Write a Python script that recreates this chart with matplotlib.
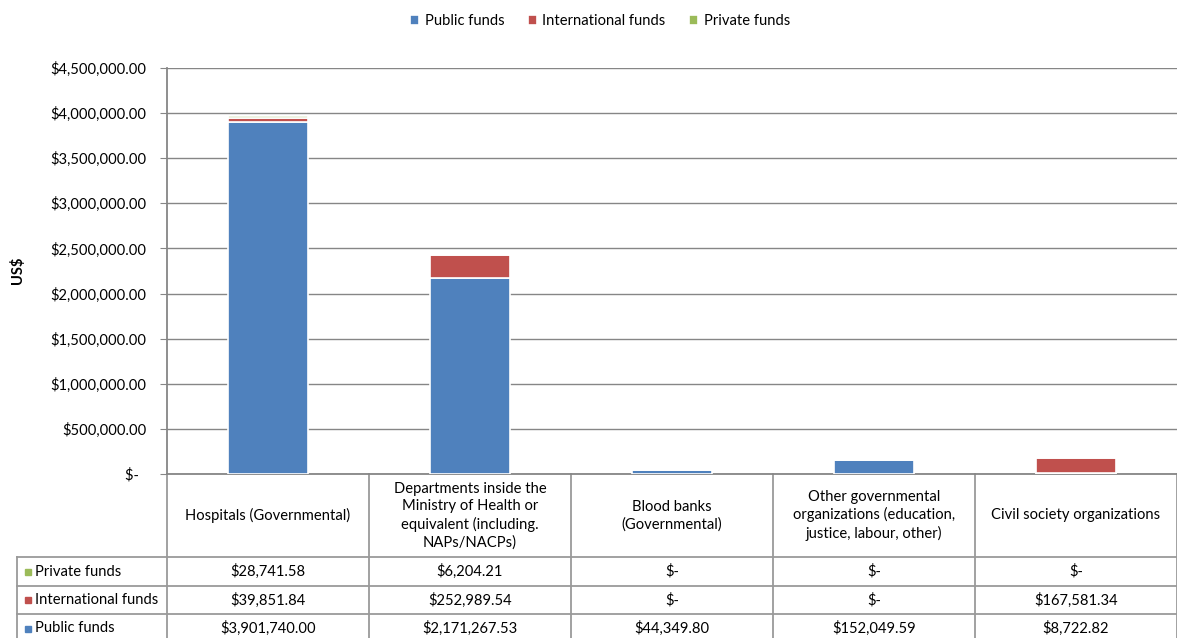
import matplotlib
matplotlib.use("Agg")
import matplotlib.pyplot as plt
import numpy as np
from matplotlib.ticker import FuncFormatter

plt.rcParams['font.family'] = ['Lato', 'DejaVu Sans']

categories = [
    "Hospitals (Governmental)",
    "Departments inside the\nMinistry of Health or\nequivalent (including.\nNAPs/NACPs)",
    "Blood banks\n(Governmental)",
    "Other governmental\norganizations (education,\njustice, labour, other)",
    "Civil society organizations",
]
public_funds = [3901740.00, 2171267.53, 44349.80, 152049.59, 8722.82]
international_funds = [39851.84, 252989.54, 0.0, 0.0, 167581.34]
private_funds = [28741.58, 6204.21, 0.0, 0.0, 0.0]
series_names = ["Public funds", "International funds", "Private funds"]
colors = ["#4F81BD", "#C0504D", "#9BBB59"]
yticks = np.arange(0, 4500001, 500000)

FS = 10.6

def money(v):
    return "$-" if v == 0 else "${:,.2f}".format(v)

fig = plt.figure(figsize=(11.77, 6.38), dpi=100)
ax = fig.add_axes([167/1177, 1-474/638, 1-167/1177, (474-68)/638])

x = np.arange(len(categories))
series = [public_funds, international_funds, private_funds]
bottom = np.zeros(len(categories))
handles = []
for name, vals, c in zip(series_names, series, colors):
    b = ax.bar(x, vals, 0.4, bottom=bottom, color=c, edgecolor="white", linewidth=1.2, label=name, zorder=3)
    handles.append(b)
    bottom += np.array(vals)

ax.set_xlim(-0.5, len(categories)-0.5)
ax.set_ylim(0, 4500000)
ax.set_yticks(yticks)
ax.yaxis.set_major_formatter(FuncFormatter(lambda v, p: "$-  " if v == 0 else money(v)))
ax.tick_params(axis='y', length=5, color="#868686", labelsize=FS, pad=10, labelcolor="#000000")
ax.tick_params(axis='x', length=0, labelbottom=False)
ax.grid(axis='y', color="#868686", linewidth=1.0, zorder=0)
for s in ["top", "right"]:
    ax.spines[s].set_visible(False)
ax.spines["left"].set_color("#868686")
ax.spines["bottom"].set_color("#868686")
ax.spines["left"].set_linewidth(1.3)
ax.spines["bottom"].set_linewidth(1.3)
ax.set_ylabel("US$", fontsize=FS, fontweight="bold")
ax.yaxis.set_label_coords((25-167)/1010, (474-270)/406)

# Legend
ax.legend(handles=handles, labels=series_names, loc="upper center",
          bbox_to_anchor=((600-167)/1010, 1+(68-13)/406+0.03),
          ncol=3, frameon=False, fontsize=FS, handlelength=0.6, handleheight=0.6,
          columnspacing=1.6, handletextpad=0.4, bbox_transform=ax.transAxes)

# Data table
tr = ax.get_xaxis_transform()
lc = "#9a9a9a"
lw = 1.3
h_hdr = -(557-474)/406
row_b = [-(586-474)/406, -(614-474)/406, -(643-474)/406]
left_lab = -0.5 - (167-17)/202.0
right = len(categories) - 0.5
for xv in np.arange(-0.5, len(categories), 1.0):
    ax.plot([xv, xv], [0, row_b[-1]], color=lc, lw=lw, transform=tr, clip_on=False)
ax.plot([left_lab, left_lab], [h_hdr, row_b[-1]], color=lc, lw=lw, transform=tr, clip_on=False)
ax.plot([left_lab, right], [h_hdr, h_hdr], color=lc, lw=lw, transform=tr, clip_on=False)
for yb in row_b:
    ax.plot([left_lab, right], [yb, yb], color=lc, lw=lw, transform=tr, clip_on=False)

for i, cat in enumerate(categories):
    ax.text(i, h_hdr/2, cat, transform=tr, ha="center", va="center", fontsize=FS, linespacing=1.3)

row_order = [(series_names[2], private_funds, colors[2]),
             (series_names[1], international_funds, colors[1]),
             (series_names[0], public_funds, colors[0])]
tops = [h_hdr] + row_b[:-1]
for (name, vals, c), yt, yb in zip(row_order, tops, row_b):
    yc = (yt + yb) / 2
    ax.plot([left_lab + 11/202], [yc], marker="s", ms=4.8, color=c, transform=tr, clip_on=False, lw=0)
    ax.text(left_lab + 18/202, yc, name, transform=tr, ha="left", va="center", fontsize=FS)
    for i, v in enumerate(vals):
        ax.text(i, yc, money(v), transform=tr, ha="center", va="center", fontsize=FS)

fig.savefig("out.png", dpi=100)
